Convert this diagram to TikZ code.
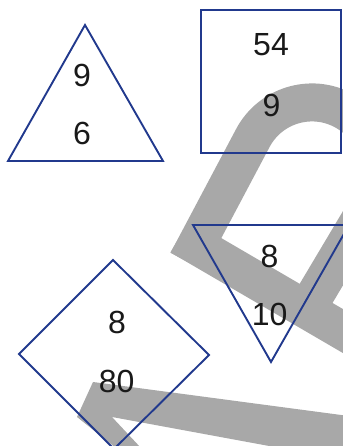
\documentclass[tikz,border=0pt]{standalone}
\usepackage{fontspec}
\setmainfont{Liberation Sans}
\definecolor{shapeblue}{RGB}{33,57,141}
\definecolor{markgray}{RGB}{168,168,168}
\begin{document}
\begin{tikzpicture}[x=1pt, y=1pt,
    outline/.style={draw=shapeblue, line width=1.9pt, line join=miter},
    wmark/.style={draw=markgray, line width=38pt},
    num/.style={font=\fontsize{32}{32}\selectfont, text=black!90, inner sep=0pt}
]
    \useasboundingbox (0,0) rectangle (342,446);
    % watermark behind
    \draw[wmark] (180,210) -- (396,84);
    \draw[wmark] (187.3,184.3) -- (252.8,307.9) arc[start angle=152.1, end angle=-28, radius=67] -- (305,134);
    \fill[markgray] (93,64) -- (345,30.5) -- (345,-2) -- (280,-2) -- (112,29) -- (141,-2) -- (116,-2) -- (77,29) -- cycle;
    % shapes
    \draw[outline] (85,421) -- (8,285) -- (163,285) -- cycle;
    \draw[outline] (201,436) rectangle (341,293);
    \draw[outline] (193,221) -- (349,221) -- (271,84) -- cycle;
    \draw[outline] (113,186) -- (209,91) -- (114,-3) -- (19,92) -- cycle;
    % numbers
    \node[num] (tri-top) at (82,371) {9};
    \node[num] (tri-bot) at (82,312.5) {6};
    \node[num] (sq-top) at (271,401) {54};
    \node[num] (sq-bot) at (271.5,341) {9};
    \node[num] (inv-top) at (269.5,190) {8};
    \node[num] (inv-bot) at (269.7,131.5) {10};
    \node[num] (dia-top) at (117,124) {8};
    \node[num] (dia-bot) at (116.7,65) {80};
\end{tikzpicture}
\end{document}
